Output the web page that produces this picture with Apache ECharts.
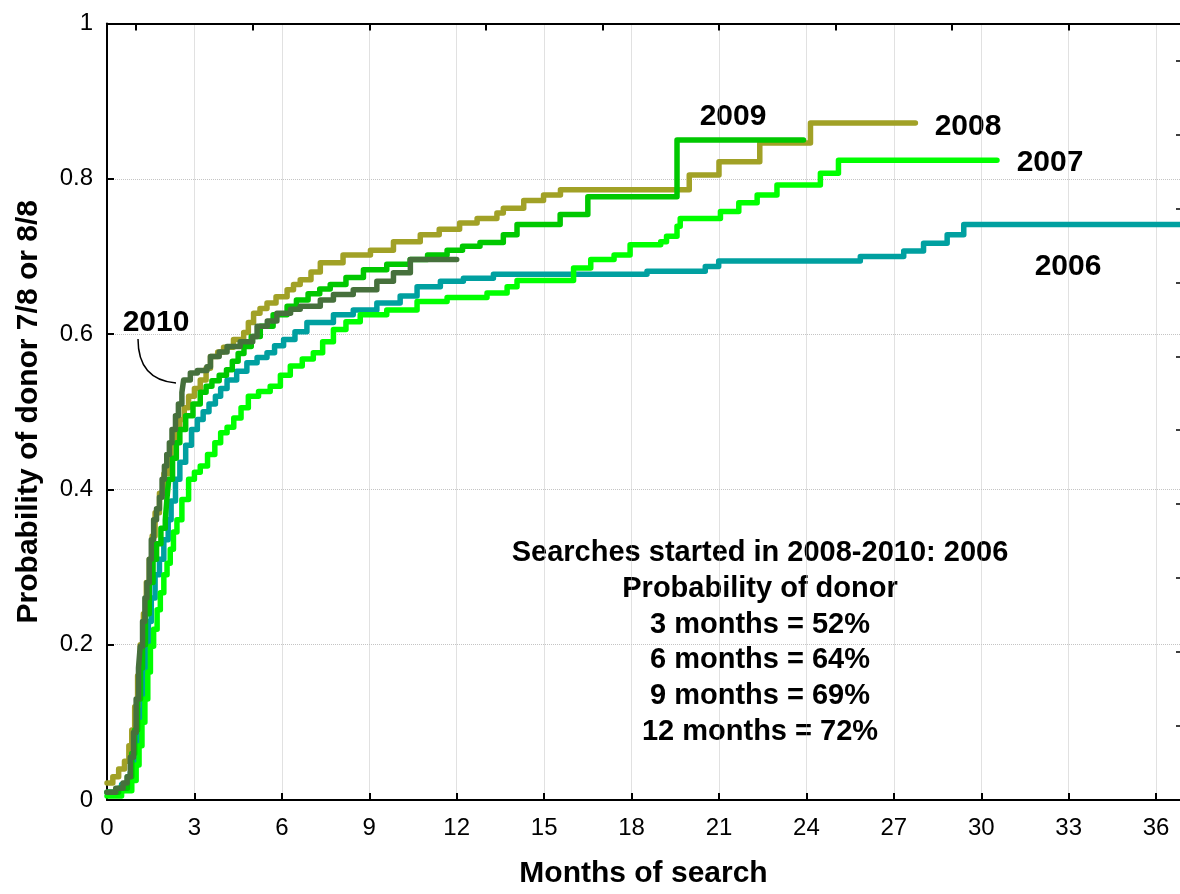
<!DOCTYPE html>
<html>
<head>
<meta charset="utf-8">
<title>Probability of donor 7/8 or 8/8</title>
<script src="https://cdn.jsdelivr.net/npm/echarts@6/dist/echarts.min.js"></script>
<style>
  html, body { margin: 0; padding: 0; background: #fff; }
  #chart { width: 1180px; height: 894px; }
</style>
</head>
<body>
<div id="chart"></div>
<script>
// Kaplan-Meier style curves (months, probability)
const months2006 = [0, 0.5, 0.8, 0.95, 1.05, 1.15, 1.25, 1.33, 1.42, 1.52, 1.65, 1.8, 1.95, 2.1, 2.2, 2.35, 2.5, 2.7, 2.9, 3.1, 3.3, 3.5, 3.72, 3.9, 4.12, 4.45, 4.8, 5.15, 5.49, 5.75, 6.06, 6.45, 6.86, 7.77, 8.45, 9.26, 10.06, 10.64, 11.44, 12.23, 13.26, 18.53, 20.53, 20.99, 25.85, 27.34, 28.02, 28.83, 29.4, 37]
const prob2006 = [0.01, 0.02, 0.035, 0.06, 0.09, 0.13, 0.17, 0.2, 0.23, 0.26, 0.29, 0.31, 0.335, 0.361, 0.385, 0.413, 0.435, 0.457, 0.477, 0.49, 0.5, 0.51, 0.52, 0.53, 0.541, 0.552, 0.563, 0.57, 0.576, 0.585, 0.593, 0.603, 0.615, 0.625, 0.631, 0.64, 0.649, 0.661, 0.668, 0.672, 0.677, 0.681, 0.687, 0.694, 0.7, 0.707, 0.717, 0.728, 0.741, 0.741]

const months2007 = [0, 0.5, 0.85, 1.0, 1.1, 1.2, 1.3, 1.4, 1.49, 1.6, 1.72, 1.83, 1.95, 2.06, 2.17, 2.28, 2.4, 2.57, 2.8, 3.0, 3.2, 3.45, 3.7, 3.9, 4.12, 4.35, 4.6, 4.85, 5.2, 5.6, 5.95, 6.29, 6.7, 7.08, 7.4, 7.77, 8.2, 8.69, 9.6, 10.64, 11.67, 13.04, 13.73, 14.07, 16.01, 16.6, 17.4, 17.95, 19.0, 19.2, 19.56, 19.67, 21.05, 21.68, 22.31, 22.99, 24.48, 25.1, 30.54]
const prob2007 = [0.005, 0.012, 0.025, 0.045, 0.07, 0.1, 0.13, 0.165, 0.198, 0.22, 0.245, 0.267, 0.29, 0.305, 0.323, 0.345, 0.361, 0.387, 0.413, 0.422, 0.43, 0.445, 0.46, 0.473, 0.48, 0.492, 0.505, 0.52, 0.526, 0.533, 0.547, 0.559, 0.568, 0.576, 0.59, 0.606, 0.616, 0.625, 0.631, 0.642, 0.647, 0.653, 0.661, 0.669, 0.685, 0.696, 0.702, 0.715, 0.719, 0.726, 0.739, 0.749, 0.758, 0.769, 0.779, 0.792, 0.807, 0.824, 0.824]

const months2008 = [0, 0.2, 0.4, 0.6, 0.75, 0.85, 0.95, 1.05, 1.14, 1.25, 1.35, 1.45, 1.55, 1.65, 1.8, 1.95, 2.1, 2.2, 2.35, 2.5, 2.65, 2.8, 3.0, 3.2, 3.4, 3.55, 3.8, 4.0, 4.34, 4.69, 4.85, 5.03, 5.25, 5.49, 5.8, 6.18, 6.4, 6.63, 7.0, 7.32, 8.1, 9.04, 9.83, 10.75, 11.4, 12.1, 12.7, 13.38, 13.6, 14.3, 14.98, 15.56, 19.98, 21.0, 22.4, 24.14, 27.74]
const prob2008 = [0.022, 0.03, 0.04, 0.05, 0.07, 0.09, 0.12, 0.16, 0.2, 0.24, 0.28, 0.31, 0.34, 0.37, 0.395, 0.42, 0.44, 0.46, 0.477, 0.49, 0.505, 0.52, 0.53, 0.541, 0.556, 0.571, 0.577, 0.583, 0.593, 0.602, 0.615, 0.627, 0.633, 0.64, 0.648, 0.657, 0.664, 0.67, 0.68, 0.692, 0.702, 0.708, 0.719, 0.728, 0.735, 0.743, 0.749, 0.756, 0.762, 0.772, 0.779, 0.786, 0.805, 0.822, 0.846, 0.872, 0.872]

const months2009 = [0, 0.4, 0.7, 0.85, 0.95, 1.05, 1.15, 1.22, 1.32, 1.45, 1.58, 1.7, 1.85, 2.0, 2.06, 2.12, 2.25, 2.38, 2.5, 2.7, 2.95, 3.2, 3.4, 3.6, 3.85, 4.1, 4.3, 4.5, 4.7, 4.95, 5.26, 5.7, 6.18, 6.5, 6.9, 7.3, 7.66, 8.2, 8.8, 9.6, 10.4, 11.0, 11.67, 12.2, 12.8, 13.6, 14.07, 15.55, 16.5, 19.56, 23.9]
const prob2009 = [0.01, 0.015, 0.03, 0.06, 0.09, 0.13, 0.17, 0.2, 0.24, 0.28, 0.31, 0.33, 0.35, 0.361, 0.39, 0.413, 0.44, 0.46, 0.477, 0.495, 0.51, 0.525, 0.533, 0.54, 0.547, 0.554, 0.565, 0.575, 0.584, 0.597, 0.61, 0.625, 0.636, 0.644, 0.652, 0.658, 0.664, 0.673, 0.683, 0.69, 0.696, 0.702, 0.708, 0.713, 0.718, 0.728, 0.741, 0.754, 0.777, 0.85, 0.85]

const months2010 = [0, 0.3, 0.55, 0.69, 0.8, 0.91, 1.0, 1.08, 1.14, 1.22, 1.3, 1.37, 1.45, 1.52, 1.6, 1.7, 1.8, 1.89, 1.97, 2.05, 2.14, 2.23, 2.35, 2.45, 2.57, 2.63, 2.86, 3.1, 3.43, 3.55, 3.85, 4.12, 4.57, 5.0, 5.15, 5.5, 5.83, 6.3, 6.63, 7.32, 7.77, 8.45, 9.26, 9.83, 10.41, 12.0]
const prob2010 = [0.01, 0.015, 0.022, 0.03, 0.055, 0.087, 0.13, 0.17, 0.198, 0.23, 0.26, 0.28, 0.31, 0.335, 0.361, 0.375, 0.39, 0.413, 0.43, 0.445, 0.46, 0.477, 0.495, 0.51, 0.525, 0.541, 0.55, 0.553, 0.558, 0.571, 0.577, 0.584, 0.59, 0.597, 0.61, 0.617, 0.627, 0.632, 0.636, 0.644, 0.651, 0.657, 0.668, 0.679, 0.696, 0.696]

const years = ['2006', '2007', '2008', '2009', '2010']
const colors = ['#00A0A0', '#00FF00', '#A1A126', '#00C800', '#46703C']
const topTicks = [1, 5, 9, 13, 17, 21, 25, 29, 33]

const summaryLines = [
  'Searches started in 2008-2010: 2006',
  'Probability of donor',
  '3 months = 52%',
  '6 months = 64%',
  '9 months = 69%',
  '12 months = 72%'
]

const font = '"Liberation Sans", Arial, sans-serif'

function zip(xs, ys) {
  return xs.map((x, i) => [x, ys[i]])
}

const allData = [
  zip(months2006, prob2006),
  zip(months2007, prob2007),
  zip(months2008, prob2008),
  zip(months2009, prob2009),
  zip(months2010, prob2010)
]

const myChart = echarts.init(document.getElementById('chart'))

// year labels next to the curves
const yearTags = [
  { text: '2006', x: 1068, y: 267 },
  { text: '2007', x: 1050, y: 163 },
  { text: '2008', x: 968, y: 127 },
  { text: '2009', x: 733, y: 117 },
  { text: '2010', x: 156, y: 323 }
]

const graphic = yearTags.map(t => ({
  type: 'text',
  x: t.x,
  y: t.y,
  style: {
    text: t.text,
    font: 'bold 30px ' + font,
    fill: '#000',
    align: 'center',
    verticalAlign: 'middle'
  }
}))

graphic.push({
  type: 'bezierCurve',
  shape: { x1: 138, y1: 339, cpx1: 138, cpy1: 368, cpx2: 152, cpy2: 381, x2: 176, y2: 383 },
  style: { stroke: '#000', lineWidth: 1.5, fill: null }
})

summaryLines.forEach((line, i) => {
  graphic.push({
    type: 'text',
    x: 760,
    y: 553 + i * 35.8,
    style: {
      text: line,
      font: 'bold 29px ' + font,
      fill: '#000',
      align: 'center',
      verticalAlign: 'middle'
    }
  })
})

const option = {
  animation: false,
  backgroundColor: '#fff',
  grid: {
    left: 107,
    right: 0,
    top: 23.5,
    bottom: 93
  },
  xAxis: [{
      type: 'value',
      min: 0,
      max: 36.82,
      interval: 3,
      name: 'Months of search',
      nameLocation: 'middle',
      nameGap: 59,
      nameTextStyle: {
        fontFamily: font,
        fontWeight: 'bold',
        fontSize: 30,
        color: '#000'
      },
      axisLine: {
        lineStyle: { color: '#000', width: 2 }
      },
      axisTick: {
        inside: true,
        length: 7,
        lineStyle: { color: '#000', width: 2 }
      },
      axisLabel: {
        showMaxLabel: false,
        margin: 16,
        fontFamily: font,
        fontSize: 24,
        color: '#000'
      },
      splitLine: {
        show: true,
        lineStyle: { color: '#c4c4c4', type: 'dotted', width: 1 }
      }
    },
    {
      type: 'value',
      position: 'top',
      min: 0,
      max: 36.82,
      axisLine: {
        onZero: false,
        lineStyle: { color: '#000', width: 2 }
      },
      axisTick: {
        inside: true,
        length: 7,
        customValues: topTicks,
        lineStyle: { color: '#000', width: 2 }
      },
      axisLabel: { show: false },
      splitLine: { show: false }
    }
  ],
  yAxis: [{
      type: 'value',
      min: 0,
      max: 1,
      interval: 0.2,
      name: 'Probability of donor 7/8 or 8/8',
      nameLocation: 'middle',
      nameGap: 63,
      nameTextStyle: {
        fontFamily: font,
        fontWeight: 'bold',
        fontSize: 30,
        color: '#000'
      },
      axisLine: {
        lineStyle: { color: '#000', width: 2 }
      },
      axisTick: {
        inside: true,
        length: 7,
        lineStyle: { color: '#000', width: 2 }
      },
      axisLabel: {
        margin: 14,
        fontFamily: font,
        fontSize: 24,
        color: '#000'
      },
      splitLine: {
        show: true,
        lineStyle: { color: '#c4c4c4', type: 'dotted', width: 1 }
      }
    },
    {
      type: 'value',
      position: 'right',
      min: 0,
      max: 1.05,
      interval: 0.1,
      axisLine: { show: false, onZero: false },
      axisTick: {
        inside: true,
        length: 4,
        lineStyle: { color: '#000', width: 1.5 }
      },
      axisLabel: { show: false },
      splitLine: { show: false }
    }
  ],
  series: years.map((year, i) => ({
    name: year,
    type: 'line',
    step: 'end',
    showSymbol: false,
    xAxisIndex: 0,
    yAxisIndex: 0,
    data: allData[i],
    lineStyle: {
      color: colors[i],
      width: 5.5,
      cap: 'round',
      join: 'round'
    },
    emphasis: { disabled: true },
    z: 2 + i
  })),
  graphic: graphic
}

myChart.setOption(option)
window.addEventListener('resize', function() {
  myChart.resize()
})
</script>
</body>
</html>
